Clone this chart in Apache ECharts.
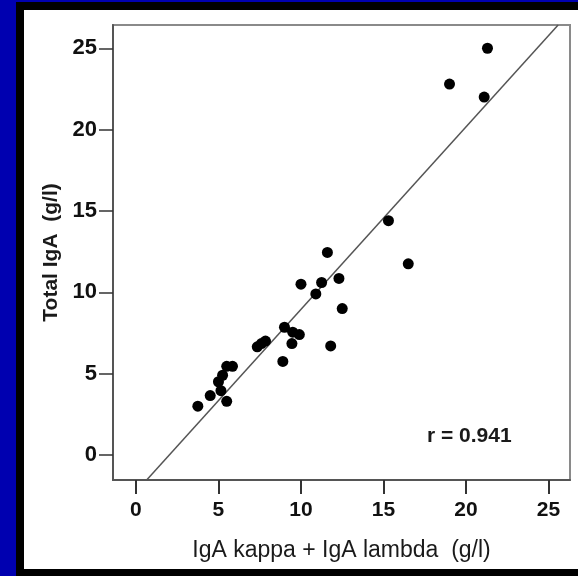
<!DOCTYPE html>
<html>
<head>
<meta charset="utf-8">
<script src="https://cdn.jsdelivr.net/npm/echarts@6/dist/echarts.min.js"></script>
<style>
html,body{margin:0;padding:0;width:578px;height:576px;overflow:hidden;background:#0000b0;}
#outer{position:absolute;left:16px;top:2px;right:0;bottom:0;background:#000;}
#inner{position:absolute;left:24px;top:10px;width:554px;height:559px;background:#fff;}
#chart{position:absolute;left:0;top:0;width:578px;height:576px;}
</style>
</head>
<body>
<div id="outer"></div>
<div id="inner"></div>
<div id="chart"></div>
<script>
// Data
const kappaLambda = [21.3, 19.0, 21.1, 15.3, 16.5, 11.6, 10.0, 11.25, 12.3, 10.9, 12.5, 9.0, 9.5, 9.9, 9.45, 11.8, 7.85, 7.6, 7.35, 8.9, 5.85, 5.5, 5.25, 5.0, 5.15, 4.5, 5.5, 3.75];
const totalIgA    = [25.0, 22.8, 22.0, 14.4, 11.75, 12.45, 10.5, 10.6, 10.85, 9.9, 9.0, 7.85, 7.55, 7.4, 6.85, 6.7, 7.0, 6.85, 6.65, 5.75, 5.45, 5.45, 4.9, 4.5, 3.95, 3.65, 3.3, 3.0];
const fitX = [0.65, 25.58];
const fitY = [-1.54, 26.43];
const tickValues = [0, 5, 10, 15, 20, 25];
const xTitle = 'IgA kappa + IgA lambda  (g/l)';
const yTitle = 'Total IgA  (g/l)';
const rText = 'r = 0.941';

const points = kappaLambda.map((v, i) => [v, totalIgA[i]]);
const fitLine = fitX.map((v, i) => [v, fitY[i]]);

const chart = echarts.init(document.getElementById('chart'), null, {renderer: 'canvas'});
const FONT = '"Liberation Sans", Arial, sans-serif';
chart.setOption({
  backgroundColor: 'transparent',
  animation: false,
  grid: {left: 113, top: 25, right: 8, bottom: 96, show: true, borderColor: '#8a8a8a', borderWidth: 2, backgroundColor: 'transparent'},
  xAxis: {
    type: 'value', min: -1.39, max: 26.3,
    name: xTitle, nameLocation: 'middle', nameGap: 59,
    nameTextStyle: {fontFamily: FONT, fontSize: 23, color: '#1a1a1a'},
    axisLine: {show: true, onZero: false, lineStyle: {color: '#555', width: 2}},
    axisTick: {show: true, inside: false, length: 14, customValues: tickValues, lineStyle: {color: '#333', width: 2}},
    axisLabel: {customValues: tickValues, margin: 20, fontFamily: FONT, fontSize: 21, fontWeight: 'bold', color: '#111'},
    splitLine: {show: false}
  },
  yAxis: {
    type: 'value', min: -1.54, max: 26.43,
    name: yTitle, nameLocation: 'middle', nameGap: 45, nameRotate: 90,
    nameTextStyle: {fontFamily: FONT, fontSize: 21, fontWeight: 'bold', color: '#1a1a1a'},
    axisLine: {show: true, onZero: false, lineStyle: {color: '#555', width: 2}},
    axisTick: {show: true, inside: false, length: 14, customValues: tickValues, lineStyle: {color: '#333', width: 1.5}},
    axisLabel: {customValues: tickValues, margin: 16, fontFamily: FONT, fontSize: 22, fontWeight: 'bold', color: '#111'},
    splitLine: {show: false}
  },
  graphic: [{
    type: 'text', left: 427, top: 426,
    style: {text: rText, font: 'bold 21px ' + FONT, fill: '#1a1a1a'}
  }],
  series: [{
    type: 'line', data: fitLine, showSymbol: false, symbol: 'none',
    lineStyle: {color: '#555', width: 1.5}, z: 1, silent: true
  }, {
    type: 'scatter', data: points, symbol: 'circle', symbolSize: 11,
    itemStyle: {color: '#000', opacity: 1}, z: 3
  }]
});
</script>
</body>
</html>
